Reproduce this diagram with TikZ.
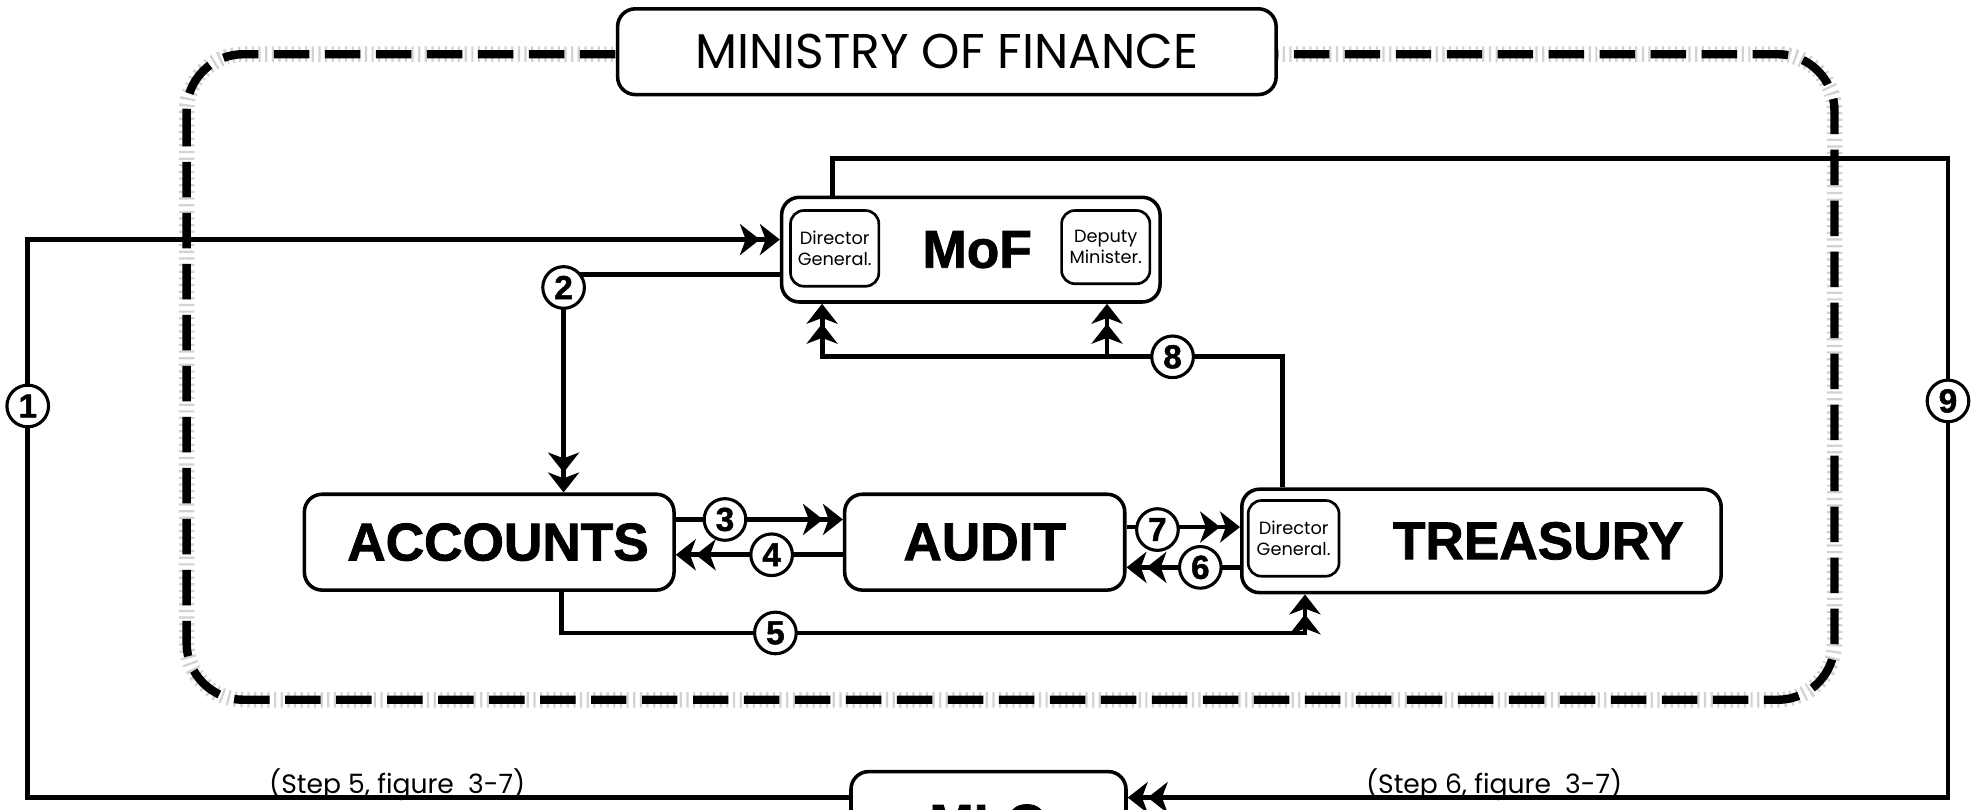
\documentclass[tikz,border=0pt]{standalone}
\usepackage{fontspec}
\newfontfamily\gothicfont{Poppins}
\newfontfamily\heavyfont{Liberation Sans}[UprightFont={* Bold},FakeBold=1.5]
\usetikzlibrary{arrows.meta}
\usetikzlibrary{positioning}
\tikzset{
    office/.style = {draw,line width=0.8pt,rounded corners=4pt,fill=white,inner sep=0},
    post/.style = {draw,line width=0.6pt,rounded corners=3pt,align=center,inner sep=0,
        font=\gothicfont\fontsize{4}{4.8}\selectfont},
    bigtxt/.style = {font=\heavyfont\fontsize{12}{14}\selectfont},
    stepno/.style = {circle,draw,line width=0.7pt,fill=white,inner sep=0,minimum size=0.33cm,
        font=\heavyfont\fontsize{7.5}{8}\selectfont},
    wire/.style = {line width=1.1pt},
    flow/.style = {wire,-{Stealth[length=4.5pt,width=7pt,inset=1.3pt]Stealth[length=4.5pt,width=7pt,inset=1.3pt]}},
    halo/.style = {draw=gray!35,line width=3.5pt,dash pattern=on 0.5pt off 1pt,rounded corners=0.45cm},
    boundary/.style = {line width=1.9pt,dash pattern=on 8pt off 3.5pt,rounded corners=0.45cm},
    note/.style = {font=\gothicfont\fontsize{6}{7}\selectfont}
}

\begin{document}
\begin{tikzpicture}[x=0.01cm,y=-0.01cm]
        \useasboundingbox (0,0) rectangle (1568,642);
        % Ministry boundary
        \draw[halo] (148,43) rectangle (1455,555);
        \draw[boundary] (148,43) rectangle (1455,555);
        \node[office,minimum width=5.22cm,minimum height=0.68cm,
            font=\gothicfont\fontsize{11}{13}\selectfont] (MinFin) at (751,41) {MINISTRY OF FINANCE};
        % Offices
        \path node[office,bigtxt,minimum width=3cm,minimum height=0.83cm] (MoF) at (770,198) {\hspace{0.1cm}MoF}
            node[office,bigtxt,minimum width=2.93cm,minimum height=0.76cm] (Acc) at (388,430) {\hspace{0.14cm}ACCOUNTS}
            node[office,bigtxt,minimum width=2.22cm,minimum height=0.76cm] (Aud) at (781,430) {AUDIT}
            node[office,minimum width=3.8cm,minimum height=0.82cm,
                label={[bigtxt,xshift=0.45cm]center:TREASURY}] (Tre) at (1175,429) {}
            node[office,bigtxt,minimum width=2.18cm,minimum height=0.82cm] (MLO) at (784,653) {MLO}
        ;
        % Posts
        \path node[post,minimum width=0.7cm,minimum height=0.6cm] (dgMoF) at (662,197) {Director\\General.}
            node[post,minimum width=0.7cm,minimum height=0.58cm] (dmMoF) at (877,196) {Deputy\\Minister.}
            node[post,minimum width=0.72cm,minimum height=0.6cm] (dgTre) at (1026,427) {Director\\General.}
        ;
        % Notes
        \node[note] (note5) at (315,622) {(Step 5, figure\ \ 3-7)};
        \node[note] (note6) at (1185,622) {(Step 6, figure\ \ 3-7)};
        % Corners
        \path (MLO.north west) ++(0,22) coordinate (mloW)
              (MLO.north east) ++(0,22) coordinate (mloE);
        \coordinate (c1) at (22,190);
        \coordinate (c2) at (447,218);
        \coordinate (y3) at (0,412);
        \coordinate (y4) at (0,440);
        \coordinate (c5a) at (445,502);
        \coordinate (c5b) at (1035,502);
        \coordinate (y6) at (0,450);
        \coordinate (y7) at (0,418);
        \coordinate (c8a) at (1017,283);
        \coordinate (c8b) at (652,283);
        \coordinate (c8c) at (878,283);
        \coordinate (c9a) at (660,126);
        \coordinate (c9b) at (1545,126);
        % Flows
        \draw[flow] (mloW) -| (c1) -- (c1 -| MoF.west);
        \draw[flow] (c2 -| MoF.west) -| (c2 |- Acc.north);
        \foreach \y/\src/\dest in {y3/Acc.east/Aud.west,y4/Aud.west/Acc.east,
                                   y7/Aud.east/Tre.west,y6/Tre.west/Aud.east}
            \draw[flow] (\y -| \src) -- (\y -| \dest);
        \draw[flow] (c5a |- Acc.south) -- (c5a) -- (c5b) -- (c5b |- Tre.south);
        \draw[flow] (c8a |- Tre.north) -- (c8a) -- (c8b) -- (c8b |- MoF.south);
        \draw[flow] (c8c) -- (c8c |- MoF.south);
        \draw[flow] (c9a |- MoF.north) -- (c9a) -- (c9b) |- (mloE);
        % Step numbers
        \foreach \n/\x/\y in {1/22/322,2/447/228,3/575/412,4/612/440,5/615/502,
                              6/952/450,7/918/420,8/930/283,9/1545/318}
            \node[stepno] (s\n) at (\x,\y) {\n};
\end{tikzpicture}
\end{document}
